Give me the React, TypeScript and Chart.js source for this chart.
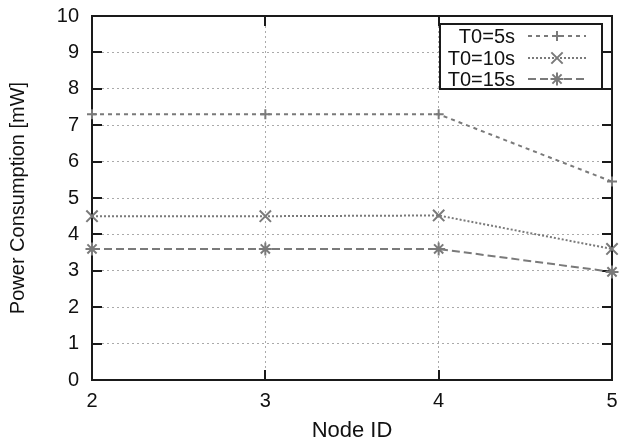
import React, { useEffect, useRef } from "react";
import { Chart, registerables } from "chart.js";

Chart.register(...registerables);

const nodeIds = [2, 3, 4, 5];
const t0_5s = [7.3, 7.3, 7.3, 5.45];
const t0_10s = [4.5, 4.5, 4.52, 3.6];
const t0_15s = [3.6, 3.6, 3.6, 2.97];
const seriesLabels = ["T0=5s", "T0=10s", "T0=15s"];
const yTicks = [0, 1, 2, 3, 4, 5, 6, 7, 8, 9, 10];

const FONT = "'Liberation Sans', Arial, Helvetica, sans-serif";
const GRAY = "#7a7a7a";

function drawMarker(ctx: CanvasRenderingContext2D, style: string, x: number, y: number, r: number) {
  ctx.beginPath();
  if (style === "cross" || style === "star") {
    ctx.moveTo(x - r, y);
    ctx.lineTo(x + r, y);
    ctx.moveTo(x, y - r);
    ctx.lineTo(x, y + r);
  }
  if (style === "crossRot" || style === "star") {
    const d = r * Math.SQRT1_2;
    ctx.moveTo(x - d, y - d);
    ctx.lineTo(x + d, y + d);
    ctx.moveTo(x - d, y + d);
    ctx.lineTo(x + d, y - d);
  }
  ctx.stroke();
}

const framePlugin = {
  id: "frame",
  beforeDatasetsDraw(chart: any) {
    const { ctx, chartArea } = chart;
    const { left, right, top, bottom } = chartArea;
    ctx.save();
    ctx.setLineDash([]);
    ctx.strokeStyle = "#1a1a1a";
    ctx.lineWidth = 2;
    ctx.strokeRect(left, top, right - left, bottom - top);
    const ys = chart.scales.y;
    const xs = chart.scales.x;
    ctx.beginPath();
    ys.ticks.forEach((t: any) => {
      const py = Math.round(ys.getPixelForValue(t.value));
      ctx.moveTo(left, py);
      ctx.lineTo(left + 10, py);
      ctx.moveTo(right, py);
      ctx.lineTo(right - 10, py);
    });
    xs.ticks.forEach((t: any) => {
      const px = Math.round(xs.getPixelForValue(t.value));
      ctx.moveTo(px, bottom);
      ctx.lineTo(px, bottom - 10);
      ctx.moveTo(px, top);
      ctx.lineTo(px, top + 10);
    });
    ctx.stroke();
    ctx.restore();
  },
  afterDatasetsDraw(chart: any) {
    const { ctx } = chart;
    const bx = 440, by = 24, bw = 162, bh = 65;
    ctx.save();
    ctx.fillStyle = "#ffffff";
    ctx.fillRect(bx, by, bw, bh);
    ctx.setLineDash([]);
    ctx.strokeStyle = "#1a1a1a";
    ctx.lineWidth = 2;
    ctx.strokeRect(bx, by, bw, bh);
    const rows = [36, 58, 79];
    chart.data.datasets.forEach((ds: any, i: number) => {
      const y = rows[i];
      ctx.fillStyle = "#111";
      ctx.font = `20px ${FONT}`;
      ctx.textAlign = "right";
      ctx.textBaseline = "middle";
      ctx.fillText(ds.label, 515, y + 1);
      ctx.strokeStyle = ds.borderColor;
      ctx.lineWidth = ds.borderWidth;
      ctx.setLineDash(ds.borderDash);
      ctx.beginPath();
      ctx.moveTo(528, y);
      ctx.lineTo(586, y);
      ctx.stroke();
      ctx.setLineDash([]);
      ctx.lineWidth = ds.pointBorderWidth;
      drawMarker(ctx, ds.pointStyle, 557, y, ds.pointRadius);
    });
    ctx.restore();
  },
};

export default function App() {
  const ref = useRef<HTMLCanvasElement>(null);
  useEffect(() => {
    if (!ref.current) return;
    const mk = (label: string, vals: number[], dash: number[], style: string, r: number) => ({
      label,
      data: nodeIds.map((x, i) => ({ x, y: vals[i] })),
      borderColor: GRAY,
      backgroundColor: GRAY,
      pointBorderColor: GRAY,
      borderWidth: 2,
      borderDash: dash,
      pointStyle: style,
      pointRadius: r,
      pointBorderWidth: 2,
      pointHoverRadius: r,
      tension: 0,
      clip: false,
    });
    const chart = new Chart(ref.current, {
      type: "line",
      data: {
        datasets: [
          mk(seriesLabels[0], t0_5s, [4, 4], "cross", 5),
          mk(seriesLabels[1], t0_10s, [2, 2], "crossRot", 8),
          mk(seriesLabels[2], t0_15s, [8, 4], "star", 6.5),
        ] as any,
      },
      options: {
        animation: false,
        responsive: false,
        devicePixelRatio: 1,
        layout: { padding: { top: 16, right: 9, left: 0, bottom: 0 } },
        plugins: { legend: { display: false }, tooltip: { enabled: false } },
        font: { family: FONT },
        scales: {
          x: {
            type: "linear",
            min: 2,
            max: 5,
            afterFit: (s: any) => {
              s.height = 64;
              s.paddingLeft = 0;
              s.paddingRight = 0;
            },
            ticks: {
              stepSize: 1,
              padding: 9,
              color: "#111",
              font: { family: FONT, size: 20 },
              autoSkip: false,
              maxRotation: 0,
            },
            grid: { color: "#aaaaaa", lineWidth: 1, drawTicks: false },
            border: { display: false, dash: [2, 3] },
            title: {
              display: true,
              text: "Node ID",
              color: "#111",
              font: { family: FONT, size: 22, lineHeight: 1 },
              padding: { top: 0, bottom: 2 },
            },
          },
          y: {
            type: "linear",
            min: 0,
            max: 10,
            afterFit: (s: any) => {
              s.width = 92;
              s.paddingTop = 0;
              s.paddingBottom = 0;
            },
            afterBuildTicks: (s: any) => {
              s.ticks = yTicks.map((v) => ({ value: v }));
            },
            ticks: {
              padding: 13,
              color: "#111",
              font: { family: FONT, size: 20 },
            },
            grid: { color: "#aaaaaa", lineWidth: 1, drawTicks: false },
            border: { display: false, dash: [2, 3] },
            title: {
              display: true,
              text: "Power Consumption [mW]",
              color: "#111",
              font: { family: FONT, size: 20, lineHeight: 1 },
              padding: { top: 8, bottom: 0 },
            },
          },
        },
      } as any,
      plugins: [framePlugin],
    });
    return () => chart.destroy();
  }, []);
  return (
    <div style={{ position: "absolute", left: 0, top: 0, width: 622, height: 444, background: "#fff" }}>
      <canvas ref={ref} width={622} height={444} style={{ width: 622, height: 444, display: "block" }} />
    </div>
  );
}
